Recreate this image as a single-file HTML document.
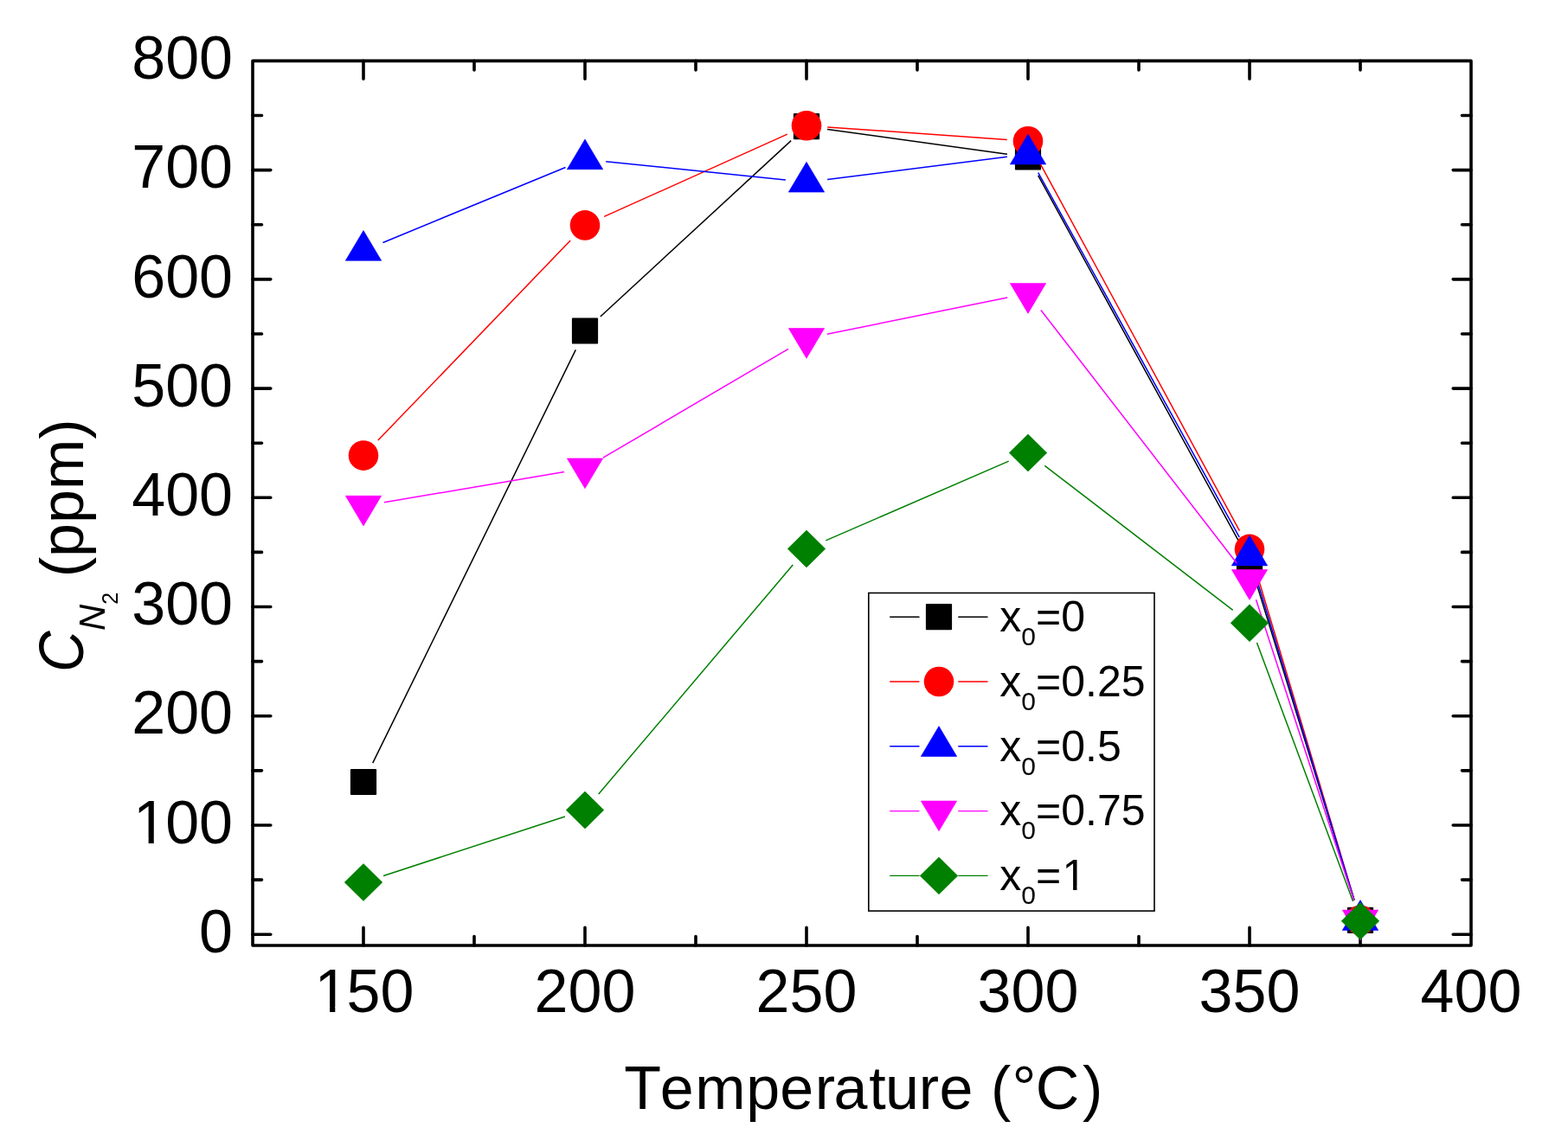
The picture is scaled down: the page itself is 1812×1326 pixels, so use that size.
<!DOCTYPE html><html><head><meta charset="utf-8"><title>Temperature vs C N2</title><style>html,body{margin:0;padding:0;background:#fff;}svg{display:block;}text{font-family:"Liberation Sans",Arial,sans-serif;fill:#000;font-kerning:none;font-feature-settings:"kern" 0;}</style></head><body>
<svg width="1812" height="1326" viewBox="0 0 1812 1326">
<rect width="1812" height="1326" fill="#fff"/>
<path d="M292.0 1080.20h20.8M1700.0 1080.20h-20.8M292.0 1017.09h10.5M1700.0 1017.09h-10.5M292.0 953.98h20.8M1700.0 953.98h-20.8M292.0 890.86h10.5M1700.0 890.86h-10.5M292.0 827.75h20.8M1700.0 827.75h-20.8M292.0 764.64h10.5M1700.0 764.64h-10.5M292.0 701.53h20.8M1700.0 701.53h-20.8M292.0 638.41h10.5M1700.0 638.41h-10.5M292.0 575.30h20.8M1700.0 575.30h-20.8M292.0 512.19h10.5M1700.0 512.19h-10.5M292.0 449.08h20.8M1700.0 449.08h-20.8M292.0 385.96h10.5M1700.0 385.96h-10.5M292.0 322.85h20.8M1700.0 322.85h-20.8M292.0 259.74h10.5M1700.0 259.74h-10.5M292.0 196.62h20.8M1700.0 196.62h-20.8M292.0 133.51h10.5M1700.0 133.51h-10.5M420.00 1093.0v-20.8M420.00 70.4v20.8M548.00 1093.0v-10.5M548.00 70.4v10.5M676.00 1093.0v-20.8M676.00 70.4v20.8M804.00 1093.0v-10.5M804.00 70.4v10.5M932.00 1093.0v-20.8M932.00 70.4v20.8M1060.00 1093.0v-10.5M1060.00 70.4v10.5M1188.00 1093.0v-20.8M1188.00 70.4v20.8M1316.00 1093.0v-10.5M1316.00 70.4v10.5M1444.00 1093.0v-20.8M1444.00 70.4v20.8M1572.00 1093.0v-10.5M1572.00 70.4v10.5" stroke="#000" stroke-width="3.6" stroke-linecap="round" fill="none"/>
<rect x="292.0" y="70.4" width="1408.0" height="1022.6" fill="none" stroke="#000" stroke-width="3.6" stroke-linejoin="round"/>
<path d="M430.71 882.19L665.29 404.31M693.85 366.01L914.15 162.59M956.07 149.43L1163.93 178.17M1199.68 202.81L1432.32 627.19M1451.16 671.72L1564.84 1040.58" stroke="#000000" stroke-width="1.5" fill="none" stroke-linecap="butt"/>
<rect x="404.90" y="888.90" width="30.2" height="30.2" rx="1" fill="#000000"/>
<rect x="660.90" y="367.40" width="30.2" height="30.2" rx="1" fill="#000000"/>
<rect x="916.90" y="131.00" width="30.2" height="30.2" rx="1" fill="#000000"/>
<rect x="1172.90" y="166.40" width="30.2" height="30.2" rx="1" fill="#000000"/>
<rect x="1428.90" y="633.40" width="30.2" height="30.2" rx="1" fill="#000000"/>
<rect x="1556.90" y="1048.70" width="30.2" height="30.2" rx="1" fill="#000000"/>
<path d="M436.84 509.09L659.16 277.91M698.16 250.43L909.84 155.17M956.24 146.90L1163.76 161.50M1199.59 184.56L1432.41 613.54M1450.95 658.18L1565.05 1040.42" stroke="#ff0000" stroke-width="1.5" fill="none" stroke-linecap="butt"/>
<circle cx="420.00" cy="526.60" r="17.3" fill="#ff0000"/>
<circle cx="676.00" cy="260.40" r="17.3" fill="#ff0000"/>
<circle cx="932.00" cy="145.20" r="17.3" fill="#ff0000"/>
<circle cx="1188.00" cy="163.20" r="17.3" fill="#ff0000"/>
<circle cx="1444.00" cy="634.90" r="17.3" fill="#ff0000"/>
<circle cx="1572.00" cy="1063.70" r="17.3" fill="#ff0000"/>
<path d="M442.47 280.44L653.53 193.46M700.17 186.68L907.83 208.02M956.11 207.47L1163.89 181.33M1199.74 199.58L1432.26 621.02M1451.06 665.55L1564.94 1040.55" stroke="#0000ff" stroke-width="1.5" fill="none" stroke-linecap="butt"/>
<polygon points="420.00,266.50 440.70,301.30 399.30,301.30" fill="#0000ff" stroke="#0000ff" stroke-width="0.6" stroke-linejoin="round"/>
<polygon points="676.00,161.00 696.70,195.80 655.30,195.80" fill="#0000ff" stroke="#0000ff" stroke-width="0.6" stroke-linejoin="round"/>
<polygon points="932.00,187.30 952.70,222.10 911.30,222.10" fill="#0000ff" stroke="#0000ff" stroke-width="0.6" stroke-linejoin="round"/>
<polygon points="1188.00,155.10 1208.70,189.90 1167.30,189.90" fill="#0000ff" stroke="#0000ff" stroke-width="0.6" stroke-linejoin="round"/>
<polygon points="1444.00,619.10 1464.70,653.90 1423.30,653.90" fill="#0000ff" stroke="#0000ff" stroke-width="0.6" stroke-linejoin="round"/>
<polygon points="1572.00,1040.60 1592.70,1075.40 1551.30,1075.40" fill="#0000ff" stroke="#0000ff" stroke-width="0.6" stroke-linejoin="round"/>
<path d="M443.96 580.75L652.04 545.55M696.95 529.19L911.05 403.41M955.82 386.27L1164.18 344.03M1202.87 358.42L1429.13 650.98M1451.52 693.31L1564.48 1040.59" stroke="#ff00ff" stroke-width="1.5" fill="none" stroke-linecap="butt"/>
<polygon points="420.00,608.00 440.70,573.20 399.30,573.20" fill="#ff00ff" stroke="#ff00ff" stroke-width="0.6" stroke-linejoin="round"/>
<polygon points="676.00,564.70 696.70,529.90 655.30,529.90" fill="#ff00ff" stroke="#ff00ff" stroke-width="0.6" stroke-linejoin="round"/>
<polygon points="932.00,414.30 952.70,379.50 911.30,379.50" fill="#ff00ff" stroke="#ff00ff" stroke-width="0.6" stroke-linejoin="round"/>
<polygon points="1188.00,362.40 1208.70,327.60 1167.30,327.60" fill="#ff00ff" stroke="#ff00ff" stroke-width="0.6" stroke-linejoin="round"/>
<polygon points="1444.00,693.40 1464.70,658.60 1423.30,658.60" fill="#ff00ff" stroke="#ff00ff" stroke-width="0.6" stroke-linejoin="round"/>
<polygon points="1572.00,1086.90 1592.70,1052.10 1551.30,1052.10" fill="#ff00ff" stroke="#ff00ff" stroke-width="0.6" stroke-linejoin="round"/>
<path d="M443.10 1012.46L652.90 944.04M691.71 917.96L916.29 653.04M954.29 624.83L1165.71 533.17M1207.27 538.31L1424.73 705.39M1452.46 742.98L1563.54 1042.02" stroke="#008000" stroke-width="1.5" fill="none" stroke-linecap="butt"/>
<polygon points="420.00,998.55 441.80,1020.00 420.00,1041.45 398.20,1020.00" fill="#008000" stroke="#008000" stroke-width="0.6" stroke-linejoin="round"/>
<polygon points="676.00,915.05 697.80,936.50 676.00,957.95 654.20,936.50" fill="#008000" stroke="#008000" stroke-width="0.6" stroke-linejoin="round"/>
<polygon points="932.00,613.05 953.80,634.50 932.00,655.95 910.20,634.50" fill="#008000" stroke="#008000" stroke-width="0.6" stroke-linejoin="round"/>
<polygon points="1188.00,502.05 1209.80,523.50 1188.00,544.95 1166.20,523.50" fill="#008000" stroke="#008000" stroke-width="0.6" stroke-linejoin="round"/>
<polygon points="1444.00,698.75 1465.80,720.20 1444.00,741.65 1422.20,720.20" fill="#008000" stroke="#008000" stroke-width="0.6" stroke-linejoin="round"/>
<polygon points="1572.00,1043.35 1593.80,1064.80 1572.00,1086.25 1550.20,1064.80" fill="#008000" stroke="#008000" stroke-width="0.6" stroke-linejoin="round"/>
<text x="269.0" y="1100.8" font-size="70" text-anchor="end">0</text>
<text x="154.01 191.14 230.07" y="974.6" font-size="70">100</text>
<text x="269.0" y="848.4" font-size="70" text-anchor="end">200</text>
<text x="269.0" y="722.1" font-size="70" text-anchor="end">300</text>
<text x="269.0" y="595.9" font-size="70" text-anchor="end">400</text>
<text x="269.0" y="469.7" font-size="70" text-anchor="end">500</text>
<text x="269.0" y="343.5" font-size="70" text-anchor="end">600</text>
<text x="269.0" y="217.2" font-size="70" text-anchor="end">700</text>
<text x="269.0" y="91.0" font-size="70" text-anchor="end">800</text>
<text x="363.40 400.53 439.47" y="1170.0" font-size="70">150</text>
<text x="676.0" y="1170.0" font-size="70" text-anchor="middle">200</text>
<text x="932.0" y="1170.0" font-size="70" text-anchor="middle">250</text>
<text x="1188.0" y="1170.0" font-size="70" text-anchor="middle">300</text>
<text x="1444.0" y="1170.0" font-size="70" text-anchor="middle">350</text>
<text x="1700.0" y="1170.0" font-size="70" text-anchor="middle">400</text>
<text id="xt" x="721.2 762.8 803.2 862.3 901.2 941.7 963.6 1004.3 1022.9 1061.8 1085.5 1125.0 1145.1 1169.4 1196.8 1251.0" y="1282" font-size="70">Temperature (°C)</text>
<text transform="translate(96 777) rotate(-90) scale(0.945 1.035)" font-size="70" font-style="italic">C</text>
<text transform="translate(96 777) rotate(-90)" font-size="70"><tspan x="47.95" font-style="italic" font-size="42" dy="25">N</tspan><tspan font-size="25" dy="15">2</tspan><tspan dx="-1.9" dy="-40"> (ppm)</tspan></text>
<rect x="1003.8" y="685.5" width="330.2" height="367.6" fill="none" stroke="#000" stroke-width="1.6"/>
<path d="M1028.7 713.2H1062M1107.8 713.2H1141" stroke="#000000" stroke-width="1.4" stroke-linecap="round"/>
<rect x="1069.90" y="698.10" width="30.2" height="30.2" rx="1" fill="#000000"/>
<text x="1155.3" y="730.0" font-size="50">x<tspan font-size="30" dy="16">0</tspan><tspan dy="-16">=0</tspan></text>
<path d="M1028.7 788.0H1062M1107.8 788.0H1141" stroke="#ff0000" stroke-width="1.4" stroke-linecap="round"/>
<circle cx="1085.00" cy="788.00" r="17.3" fill="#ff0000"/>
<text x="1155.3" y="804.8" font-size="50">x<tspan font-size="30" dy="16">0</tspan><tspan dy="-16">=0.25</tspan></text>
<path d="M1028.7 862.8H1062M1107.8 862.8H1141" stroke="#0000ff" stroke-width="1.4" stroke-linecap="round"/>
<polygon points="1085.00,839.60 1105.70,874.40 1064.30,874.40" fill="#0000ff" stroke="#0000ff" stroke-width="0.6" stroke-linejoin="round"/>
<text x="1155.3" y="879.6" font-size="50">x<tspan font-size="30" dy="16">0</tspan><tspan dy="-16">=0.5</tspan></text>
<path d="M1028.7 937.6H1062M1107.8 937.6H1141" stroke="#ff00ff" stroke-width="1.4" stroke-linecap="round"/>
<polygon points="1085.00,960.80 1105.70,926.00 1064.30,926.00" fill="#ff00ff" stroke="#ff00ff" stroke-width="0.6" stroke-linejoin="round"/>
<text x="1155.3" y="954.4" font-size="50">x<tspan font-size="30" dy="16">0</tspan><tspan dy="-16">=0.75</tspan></text>
<path d="M1028.7 1012.4H1062M1107.8 1012.4H1141" stroke="#008000" stroke-width="1.4" stroke-linecap="round"/>
<polygon points="1085.00,990.95 1106.80,1012.40 1085.00,1033.85 1063.20,1012.40" fill="#008000" stroke="#008000" stroke-width="0.6" stroke-linejoin="round"/>
<text x="1155.3" y="1029.2" font-size="50">x<tspan font-size="30" dy="16">0</tspan><tspan dy="-16">=</tspan><tspan dx="1.4">1</tspan></text>
<rect x="366" y="1163.9" width="15.13" height="6.60" fill="#fff"/>
<rect x="387.29" y="1163.9" width="13.21" height="6.60" fill="#fff"/>
<rect x="157" y="968.9" width="14.62" height="6.60" fill="#fff"/>
<rect x="177.78" y="968.9" width="14.22" height="6.60" fill="#fff"/>
<rect x="1229.5" y="1024.6" width="10.59" height="5.00" fill="#fff"/>
<rect x="1244.49" y="1024.6" width="9.51" height="5.00" fill="#fff"/>
</svg></body></html>
